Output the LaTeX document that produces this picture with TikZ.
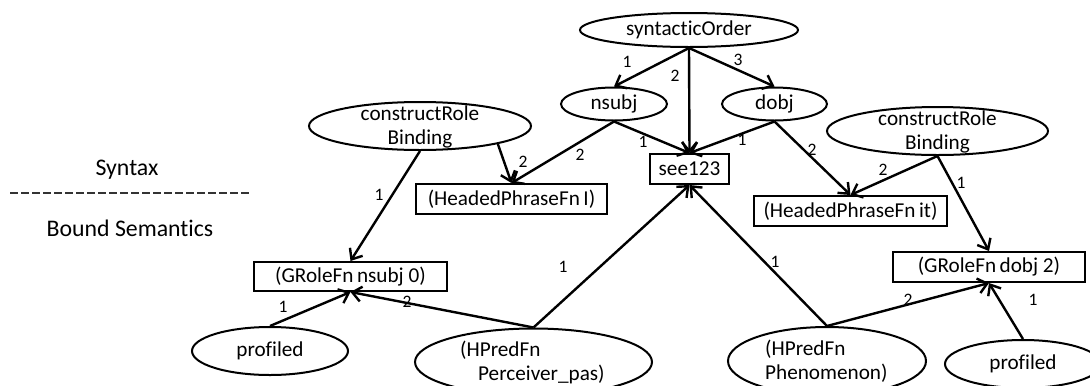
\documentclass[tikz,border=0pt]{standalone}
\usepackage{fontspec}
\setmainfont{Carlito}[Ligatures=NoCommon]
\usetikzlibrary{shapes.geometric,arrows.meta}

\newcommand\diagfont{\fontsize{21.2bp}{24bp}\selectfont}
\newcommand\sidefont{\fontsize{23.8bp}{28bp}\selectfont}
\newcommand\numfont{\fontsize{17.5bp}{20bp}\selectfont}

\tikzset{
  oval/.style={ellipse, draw, line width=2bp, inner sep=0pt, font=\diagfont},
  fnbox/.style={rectangle, draw, line width=2bp, inner sep=0pt, minimum height=30bp, font=\diagfont},
  ovaltext/.style={inner sep=0pt, font=\diagfont, align=center},
  lefttext/.style={inner sep=0pt, font=\diagfont, align=left, anchor=west},
  edgenum/.style={inner sep=0pt, font=\numfont},
  sidelabel/.style={inner sep=0pt, font=\sidefont},
  link/.style={line width=2.4bp, -{Straight Barb[length=9bp,width=15bp]}},
}

\begin{document}
\begin{tikzpicture}[x=1bp,y=-1bp]
\useasboundingbox (0,0) rectangle (1090,385);
\clip (0,0) rectangle (1090,385);

% layer labels and separator
\node[sidelabel] (syn) at (127,170) {Syntax};
\node[sidelabel] (sem) at (130,228) {Bound Semantics};
\coordinate (sepL) at (10,193);
\coordinate (sepR) at (252,193);
\draw[line width=1.2bp, dash pattern=on 7.5bp off 3.5bp, black!80] (sepL) -- (sepR);

% syntax layer
\node[oval, minimum width=218bp, minimum height=34bp] (order) at (689,30) {syntacticOrder};
\node[oval, minimum width=106bp, minimum height=33bp] (nsubj) at (614,104) {nsubj};
\node[oval, minimum width=105bp, minimum height=33bp] (dobj) at (774.5,104) {dobj};
\node[fnbox, minimum width=79bp] (see) at (689.5,169) {see123};

\node[oval, minimum width=222bp, minimum height=48bp] (crbL) at (420,126) {};
\node[ovaltext] (crbLt) at (420,127) {constructRole\\Binding};
\node[oval, minimum width=221bp, minimum height=48bp] (crbR) at (937.5,131) {};
\node[ovaltext] (crbRt) at (937.5,132) {constructRole\\Binding};

\node[fnbox, minimum width=191bp] (hpfI) at (511.5,199) {(HeadedPhraseFn\,I)};
\node[fnbox, minimum width=193bp] (hpfIt) at (850.5,211) {(HeadedPhraseFn\,it)};

% semantic layer
\node[fnbox, minimum width=193bp, minimum height=29bp] (grN) at (350.5,276.5) {(GRoleFn\,nsubj 0)};
\node[fnbox, minimum width=192bp] (grD) at (989,267) {(GRoleFn\,dobj 2)};

\node[oval, minimum width=156bp, minimum height=48bp] (profL) at (270,351) {profiled};
\node[oval, minimum width=156bp, minimum height=48bp] (profR) at (1023,364) {profiled};

\node[oval, minimum width=237bp, minimum height=67bp] (perc) at (533.5,362) {};
\node[lefttext] (perct) at (460,362) {(HPredFn\\\hspace*{18bp}Perceiver\_pas)};
\node[oval, minimum width=198bp, minimum height=68bp] (phen) at (827,361) {};
\node[lefttext] (phent) at (765,361) {(HPredFn\\Phenomenon)};

% connectors
\draw[link] (order.south) -- (nsubj.north);
\draw[link] (order.south) -- (see.north);
\draw[link] (order.south) -- (dobj.north);
\draw[link] (nsubj.south) -- (see.north);
\draw[link] (dobj.south) -- (see.north);
\draw[link] (nsubj.south) -- (hpfI.north);
\draw[link] (crbL.-13) -- (hpfI.north);
\draw[link] (crbL.south) -- (grN.north);
\draw[link] (dobj.south) -- (hpfIt.north);
\draw[link] (crbR.south) -- (hpfIt.north);
\draw[link] (crbR.south) -- (grD.north);
\draw[link] (profL.north) -- (grN.south);
\draw[link] (perc.north) -- (grN.south);
\draw[link] (perc.north) -- (see.south);
\draw[link] (phen.north) -- (see.south);
\draw[link] (phen.north) -- (grD.south);
\draw[link] (profR.north) -- (grD.south);

% argument positions
\node[edgenum] (n1) at (627,62) {1};
\node[edgenum] (n2) at (675,76) {2};
\node[edgenum] (n3) at (738,60) {3};
\node[edgenum] (n4) at (643,142) {1};
\node[edgenum] (n5) at (742,140) {1};
\node[edgenum] (n6) at (580,155) {2};
\node[edgenum] (n7) at (523,162) {2};
\node[edgenum] (n8) at (379,195) {1};
\node[edgenum] (n9) at (812,150) {2};
\node[edgenum] (n10) at (883,170) {2};
\node[edgenum] (n11) at (961,183) {1};
\node[edgenum] (n12) at (283,307) {1};
\node[edgenum] (n13) at (407,302) {2};
\node[edgenum] (n14) at (563,267) {1};
\node[edgenum] (n15) at (775,262) {1};
\node[edgenum] (n16) at (908,300) {2};
\node[edgenum] (n17) at (1033,300) {1};
\end{tikzpicture}
\end{document}
